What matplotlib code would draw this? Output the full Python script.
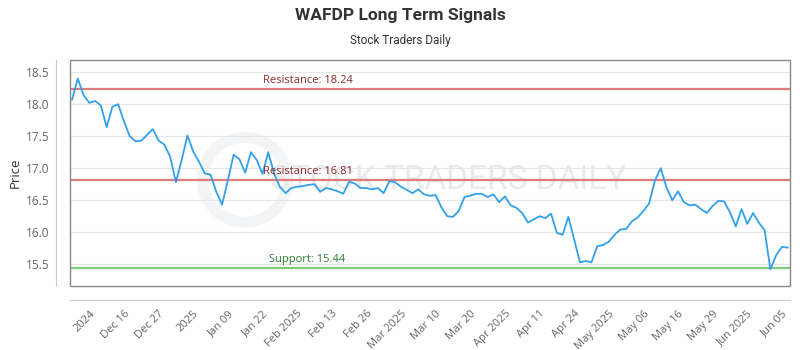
import matplotlib.pyplot as plt
from matplotlib.patches import Rectangle, Ellipse

# closing prices, one per trading day
prices = [18.07, 18.40, 18.14, 18.02, 18.05, 17.98, 17.64, 17.96, 18.00, 17.73,
          17.50, 17.42, 17.43, 17.52, 17.61, 17.43, 17.37, 17.18, 16.78, 17.13,
          17.51, 17.26, 17.10, 16.92, 16.90, 16.63, 16.43, 16.81, 17.21, 17.14,
          16.93, 17.25, 17.13, 16.91, 17.25, 16.92, 16.71, 16.61, 16.69, 16.71,
          16.72, 16.74, 16.75, 16.63, 16.69, 16.67, 16.64, 16.60, 16.79, 16.76,
          16.69, 16.69, 16.67, 16.69, 16.61, 16.80, 16.78, 16.71, 16.66, 16.61,
          16.67, 16.59, 16.57, 16.58, 16.39, 16.25, 16.24, 16.33, 16.55, 16.57,
          16.60, 16.60, 16.55, 16.59, 16.47, 16.56, 16.42, 16.38, 16.30, 16.15,
          16.20, 16.25, 16.22, 16.29, 15.99, 15.96, 16.24, 15.89, 15.53, 15.55,
          15.53, 15.78, 15.80, 15.85, 15.96, 16.04, 16.05, 16.17, 16.23, 16.33,
          16.45, 16.81, 17.00, 16.70, 16.50, 16.64, 16.47, 16.42, 16.43, 16.36,
          16.30, 16.41, 16.49, 16.48, 16.31, 16.09, 16.36, 16.13, 16.30, 16.15,
          16.03, 15.42, 15.64, 15.77, 15.76]

tick_idx = list(range(3, 125, 6))
tick_labels = ["2024", "Dec 16", "Dec 27", "2025", "Jan 09", "Jan 22", "Feb 2025",
               "Feb 13", "Feb 26", "Mar 2025", "Mar 10", "Mar 20", "Apr 2025",
               "Apr 11", "Apr 24", "May 2025", "May 06", "May 16", "May 29",
               "Jun 2025", "Jun 05"]

resistance_hi = 18.24
resistance_lo = 16.81
support = 15.44

x = list(range(len(prices)))

fig = plt.figure(figsize=(8, 3.5), dpi=100)
ax = fig.add_axes([0.0875, 0.1829, 0.9, 0.6457])

# offset axis lines (set first, set_position resets tick styling)
for s in ['top', 'right']:
    ax.spines[s].set_visible(False)
ax.spines['left'].set_position(('outward', 10))
ax.spines['bottom'].set_position(('outward', 10))
ax.spines['left'].set_color('#cccccc')
ax.spines['bottom'].set_color('#cccccc')

# faint watermark
ax.add_patch(Ellipse((0.243, 0.47), 0.118, 0.375, transform=ax.transAxes, fill=False,
                     lw=8, ec='#eceef1', alpha=0.6, zorder=0))
ax.text(0.525, 0.47, "STOCK TRADERS DAILY", transform=ax.transAxes, ha='center',
        va='center', fontsize=24, color='#e8eaed', family='Roboto', zorder=0)

ax.grid(axis='y', color='#e6e6e6', lw=0.8)
ax.set_axisbelow(True)

ax.axhline(resistance_hi, color='#e07b7b', lw=1.6, zorder=2)
ax.axhline(resistance_lo, color='#e07b7b', lw=1.6, zorder=2)
ax.axhline(support, color='#7fc97f', lw=1.6, zorder=2)

ax.plot(x, prices, color='#33a1ea', lw=1.3, zorder=3)

ax.text(0.268, resistance_hi + 0.05, "Resistance: 18.24", transform=ax.get_yaxis_transform(),
        color='#8b2a2a', fontsize=8, family='Open Sans', va='bottom', zorder=4)
ax.text(0.268, resistance_lo + 0.05, "Resistance: 16.81", transform=ax.get_yaxis_transform(),
        color='#8b2a2a', fontsize=8, family='Open Sans', va='bottom', zorder=4)
ax.text(0.2764, support + 0.05, "Support: 15.44", transform=ax.get_yaxis_transform(),
        color='#2e7d32', fontsize=8, family='Open Sans', va='bottom', zorder=4)

ax.set_xlim(-0.35, 124.4)
ax.set_ylim(15.16, 18.69)
ax.set_yticks([15.5, 16.0, 16.5, 17.0, 17.5, 18.0, 18.5])
ax.set_xticks(tick_idx)
ax.set_xticklabels(tick_labels, rotation=45, ha='right', rotation_mode='anchor',
                   fontsize=8, color='#666666', family='Open Sans')
for lab in ax.get_yticklabels():
    lab.set_family('Open Sans')
ax.tick_params(axis='y', length=0, pad=5, labelsize=8.5, labelcolor='#666666')
ax.tick_params(axis='x', length=0, pad=6)

# frame box round the plot area
ax.add_patch(Rectangle((0, 0), 1, 1, transform=ax.transAxes, fill=False,
                       ec='#888888', lw=1.0, clip_on=False, zorder=5))

ax.set_ylabel("Price", fontsize=9.5, color='#333333', family='Open Sans', labelpad=3)

fig.text(0.5, 0.955, "WAFDP Long Term Signals", ha='center', va='center',
         fontsize=12.5, fontweight='bold', color='#333333', family='Roboto')
fig.text(0.5, 0.885, "Stock Traders Daily", ha='center', va='center',
         fontsize=8.5, color='#333333', family='Roboto')

fig.savefig("out.png", dpi=100)
